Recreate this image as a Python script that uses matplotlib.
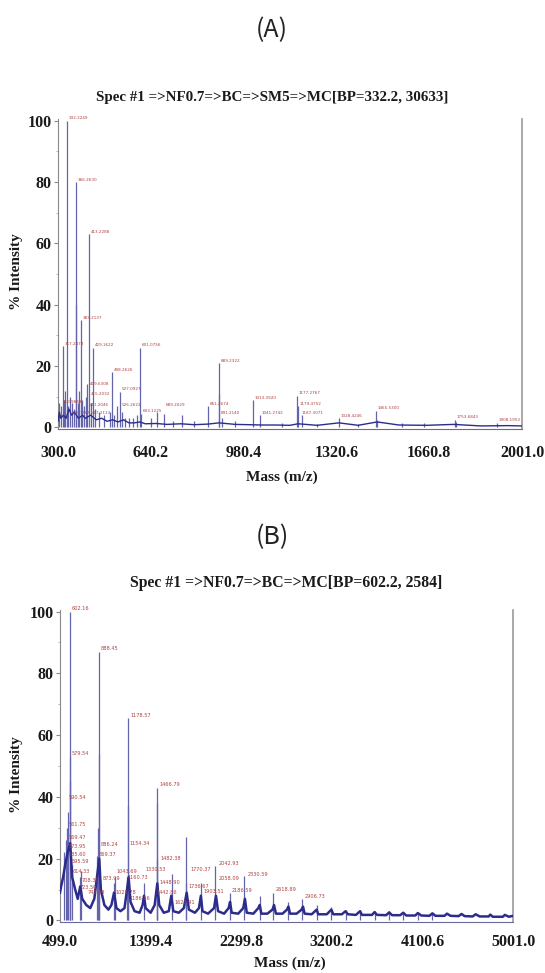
import matplotlib.pyplot as plt
from matplotlib.ticker import MultipleLocator

# ---- panel A : NF0.7 => BC => SM5 => MC ----
a_trace_mz = [300, 305, 310, 320, 330, 340, 350, 360, 375, 390, 400, 420, 440, 460, 480, 500,
              520, 540, 560, 580, 600, 620, 660, 700, 750, 800, 850, 890, 950, 1000, 1050,
              1100, 1150, 1180, 1250, 1330, 1400, 1470, 1550, 1650, 1750, 1850, 1950, 2001]
a_trace_int = [2, 5, 3, 4, 3, 6, 4, 5, 3, 4, 3, 4, 2.5, 3, 2, 2.5,
               1.8, 2.5, 1.5, 1.5, 1.8, 1.2, 1.3, 1.0, 1.2, 0.9, 1.1, 1.5, 1.0, 0.9, 0.8,
               0.8, 0.7, 1.2, 0.7, 1.5, 0.7, 1.8, 0.8, 0.7, 1.0, 0.5, 0.6, 0.5]

a_peak_mz = [304, 310, 317.2, 322, 327, 332.2, 338, 345, 352, 358, 364.3, 366.3, 372, 378, 383.2,
             388, 395, 402, 406, 413.2, 420, 429.2, 436, 450, 468, 490, 498.3, 505, 515, 527.1,
             535, 545, 560, 575, 590, 601.1, 606, 640, 663, 689, 720, 753, 800, 851.3, 889.2,
             891.5, 900, 950, 1013.4, 1041.3, 1120, 1177.3, 1179.5, 1193, 1250, 1328.4, 1400,
             1465.5, 1470, 1560, 1640, 1753.7, 1760, 1908.2]
a_peak_int = [8, 7, 26.5, 9, 12, 100, 7, 10, 8, 6, 40, 80, 8, 12, 35,
              9, 7, 10, 14, 63, 8, 26, 6, 5, 4, 5, 18, 4, 7, 11.7,
              5, 3, 3, 3, 4, 26, 4.5, 3, 5, 4.5, 2, 4, 2, 7, 21,
              11, 3, 2, 8.8, 4, 1.5, 10.4, 7, 4, 1.2, 3, 1.2,
              5.5, 2.5, 1.3, 1.3, 2.5, 1.8, 1.5]

a_lab_mz = [311.0, 317.2, 332.2, 345.2, 366.3, 383.2, 413.2, 409.6, 415.2, 411.2, 417.2, 429.2,
            498.3, 527.1, 526.3, 601.1, 603.1, 689.2, 851.3, 889.2, 891.2, 1013.4, 1041.3,
            1177.3, 1179.5, 1187.3, 1328.4, 1465.5, 1753.7, 1908.2]
a_lab_int = [7.5, 26.5, 100, 4, 80, 35, 63, 13.5, 10, 6.5, 3.8, 26,
             18, 11.7, 6.5, 26, 4.5, 6.5, 7, 21, 4, 8.8, 4,
             10.4, 7, 4, 3, 5.5, 2.5, 1.5]
a_lab_txt = ["310.9883", "317.2473", "332.2249", "345.1565", "366.2630", "383.2137", "413.2288",
             "409.6308", "415.2032", "411.2046", "417.2113", "429.1622", "498.2626", "527.0927",
             "526.2622", "601.0756", "603.1225", "689.2029", "851.2674", "889.2322", "891.2140",
             "1013.3920", "1041.2742", "1177.2767", "1179.4752", "1187.3071", "1328.4246",
             "1465.5300", "1753.6843", "1908.1953"]
a_xticks = [300.0, 640.2, 980.4, 1320.6, 1660.8, 2001.0]

# ---- panel B : NF0.7 => BC => MC ----
b_trace_mz = [499, 510, 530, 550, 575, 600, 620, 650, 675, 700, 720, 760, 800, 840, 870, 889,
              905, 940, 980, 1010, 1036, 1060, 1100, 1140, 1165, 1181, 1200, 1240, 1290, 1320,
              1334, 1350, 1400, 1440, 1466, 1485, 1530, 1580, 1605, 1625, 1680, 1730, 1758,
              1780, 1840, 1880, 1899, 1915, 1970, 2030, 2049, 2070, 2130, 2175, 2189, 2205,
              2270, 2320, 2337, 2355, 2420, 2470, 2484, 2500, 2560, 2610, 2626, 2645, 2710,
              2755, 2769, 2785, 2850, 2900, 2914, 2930, 3000, 3050, 3065, 3150, 3196, 3215,
              3300, 3337, 3360, 3440, 3481, 3500, 3600, 3625, 3650, 3740, 3770, 3800, 3880,
              3910, 3940, 4030, 4055, 4090, 4170, 4200, 4230, 4320, 4345, 4380, 4460, 4490,
              4520, 4600, 4630, 4670, 4760, 4775, 4800, 4900, 4920, 4960, 5001]
b_trace_int = [9, 11, 14, 18, 22, 25, 14, 10, 7, 11, 7, 5, 4, 7, 15, 20,
               10, 5, 3.5, 5, 9, 4, 3, 4, 10, 14, 6, 3, 2.5, 5,
               8, 4, 2.5, 5, 12, 5, 2.5, 3, 8, 3, 2.5, 4, 9,
               3.5, 2.5, 4, 8, 3, 2.2, 4, 8, 3, 2.2, 4, 6, 2.5,
               2.2, 4, 7, 2.5, 2.2, 4, 5, 2.2, 2.2, 3.5, 5, 2.2, 2.2,
               3.5, 4.5, 2.2, 2.2, 3.5, 4.5, 2.2, 2, 3.5, 2, 2, 3.5, 2,
               2, 3, 2, 1.8, 3, 1.8, 1.8, 2.7, 1.8, 1.7, 2.6, 1.7, 1.7,
               2.5, 1.6, 1.6, 2.4, 1.6, 1.5, 2.3, 1.5, 1.5, 2.2, 1.5, 1.4, 2.1,
               1.4, 1.3, 2, 1.3, 1.3, 1.9, 1.2, 1.2, 1.8, 1.2, 1.5]

b_peak_mz = [540, 555, 565, 580, 598, 600, 602.2, 614, 698, 708, 870, 880, 886, 888.5, 1036,
             1043.7, 1160, 1176, 1178.6, 1334, 1460, 1464, 1466.8, 1610, 1750, 1754.7, 1899,
             2042.9, 2189, 2330.6, 2484, 2618.9, 2769, 2906.7, 3056, 3196, 3337, 3481, 3625,
             3770, 3910, 4055, 4200]
b_peak_int = [22, 26, 30, 35, 45, 53, 100, 18, 14, 16, 21, 30, 54, 87, 12,
              14, 14, 37, 65.5, 12, 20, 38, 43, 15, 12, 27, 12,
              17.5, 9, 14.5, 8, 9, 6, 7, 5, 4.5, 3.5, 3.5, 3,
              3, 2.7, 2.5, 2.4]

b_lab_mz = [602.2, 888.5, 1178.6, 598, 1466.8, 565, 565, 565, 565, 565, 598, 608, 698, 680,
            760, 889, 870, 905, 1043, 1178, 1030, 1155, 1178, 1337, 1482.4, 1470, 1440, 1775,
            1758, 1623, 1907, 2056, 2056, 2188, 2348, 2626, 2914]
b_lab_int = [100, 87, 65.5, 53, 43, 39, 30, 26, 23, 20.5, 18, 15, 12, 9.6,
             8, 23.5, 20.5, 12.5, 15, 24, 8, 12.8, 6.3, 15.5, 19, 11.5, 8, 15.5,
             10, 5, 8.5, 17.5, 12.5, 8.6, 14, 9.2, 6.7]
b_lab_txt = ["602.16", "888.45", "1178.57", "579.54", "1466.79", "590.54", "561.75", "569.47",
             "573.95", "585.60", "595.59", "614.33", "708.31", "723.50", "742.09", "886.24",
             "869.37", "873.99", "1043.69", "1154.34", "1028.78", "1160.73", "1186.56",
             "1330.53", "1482.38", "1448.90", "1442.86", "1770.37", "1736.67", "1623.91",
             "1903.51", "2042.93", "2058.09", "2186.59", "2330.59", "2618.89", "2906.73"]
b_xticks = [499.0, 1399.4, 2299.8, 3200.2, 4100.6, 5001.0]

SERIF = 'Liberation Serif'
TRACE = '#2c2c8c'
SPIKE = '#6464ac'
LABEL = '#b04040'


def draw_spectrum(ax, tr_mz, tr_int, pk_mz, pk_int, lab_mz, lab_int, lab_txt,
                  xticks, trace_lw, lab_size, xpad):
    ax.vlines(pk_mz, 0, pk_int, color=SPIKE, lw=0.9, zorder=2)
    ax.plot(tr_mz, tr_int, color=TRACE, lw=trace_lw, zorder=3)
    for m, i, t in zip(lab_mz, lab_int, lab_txt):
        ax.annotate(t, (m, i), xytext=(1.2, 0.3), textcoords='offset points',
                    fontsize=lab_size, color=LABEL, ha='left', va='bottom',
                    annotation_clip=False, zorder=4)
    ax.set_xlim(xticks[0], xticks[-1])
    ax.set_ylim(-0.5, 100.5)
    ax.set_xticks(xticks)
    ax.set_xticklabels(['%.1f' % v for v in xticks])
    ax.set_yticks(range(0, 101, 20))
    ax.yaxis.set_minor_locator(MultipleLocator(10))
    ax.spines['top'].set_visible(False)
    ax.spines['left'].set_color('#8a8a8a')
    ax.spines['right'].set_color('#9a9a9a')
    ax.spines['right'].set_linewidth(1.2)
    ax.spines['bottom'].set_color('#6a6a9a')
    ax.tick_params(axis='y', which='major', length=3, width=0.8, color='#888888', pad=1.5)
    ax.tick_params(axis='y', which='minor', length=1.5, width=0.6, color='#aaaaaa')
    ax.tick_params(axis='x', length=0, pad=xpad)
    for lab in ax.get_xticklabels() + ax.get_yticklabels():
        lab.set_fontfamily(SERIF)
        lab.set_fontweight('bold')
        lab.set_fontsize(11.5)
        lab.set_color('#1a1a1a')


fig = plt.figure(figsize=(5.45, 9.73), dpi=100)

ax_a = fig.add_axes([58 / 545, 1 - 429 / 973, 464 / 545, 310 / 973])
draw_spectrum(ax_a, a_trace_mz, a_trace_int, a_peak_mz, a_peak_int,
              a_lab_mz, a_lab_int, a_lab_txt, a_xticks, 1.0, 3.0, 11.5)

ax_b = fig.add_axes([60 / 545, 1 - 922 / 973, 453 / 545, 312 / 973])
draw_spectrum(ax_b, b_trace_mz, b_trace_int, b_peak_mz, b_peak_int,
              b_lab_mz, b_lab_int, b_lab_txt, b_xticks, 1.8, 3.6, 9)

# panel letters, titles and axis names
fig.text(0.499, 1 - 30 / 973, '(A)', fontsize=18, family=['Noto Sans CJK KR', 'DejaVu Sans'],
         ha='center', va='center', color='#222222')
fig.text(0.499, 1 - 537 / 973, '(B)', fontsize=18, family=['Noto Sans CJK KR', 'DejaVu Sans'],
         ha='center', va='center', color='#222222')
fig.text(272 / 545, 1 - 97 / 973, 'Spec #1 =>NF0.7=>BC=>SM5=>MC[BP=332.2, 30633]',
         fontsize=10.8, family=SERIF, weight='bold', ha='center', va='center', color='#1a1a1a')
fig.text(286 / 545, 1 - 583 / 973, 'Spec #1 =>NF0.7=>BC=>MC[BP=602.2, 2584]',
         fontsize=11.3, family=SERIF, weight='bold', ha='center', va='center', color='#1a1a1a')
fig.text(282 / 545, 1 - 477 / 973, 'Mass (m/z)', fontsize=11, family=SERIF, weight='bold',
         ha='center', va='center', color='#1a1a1a')
fig.text(290 / 545, 1 - 963 / 973, 'Mass (m/z)', fontsize=11, family=SERIF, weight='bold',
         ha='center', va='center', color='#1a1a1a')
fig.text(17 / 545, 1 - 272 / 973, '% Intensity', fontsize=11, family=SERIF, weight='bold',
         rotation=90, ha='center', va='center', color='#1a1a1a')
fig.text(17 / 545, 1 - 775 / 973, '% Intensity', fontsize=11, family=SERIF, weight='bold',
         rotation=90, ha='center', va='center', color='#1a1a1a')

fig.savefig('out.png', dpi=100)
